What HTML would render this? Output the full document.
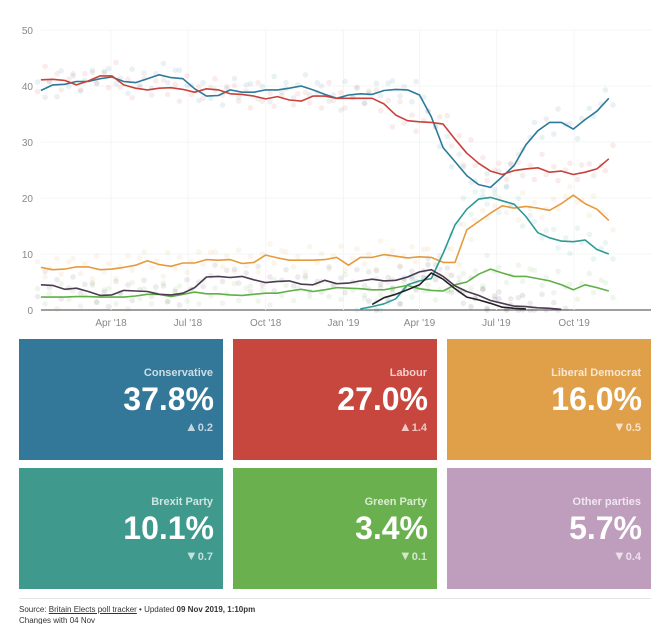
<!DOCTYPE html>
<html><head><meta charset="utf-8"><style>
body{margin:0;background:#fff;font-family:"Liberation Sans",sans-serif;}
#wrap{position:relative;width:672px;height:624px;overflow:hidden;}
.card{position:absolute;width:204px;height:121px;color:#fff;text-align:right;box-sizing:border-box;padding-right:10px;}
.card .lbl{position:absolute;right:10px;top:28px;font-size:11px;font-weight:bold;opacity:.75;}
.card .val{position:absolute;right:9px;top:42px;font-size:32px;font-weight:bold;}
.card .chg{position:absolute;right:10px;top:80px;font-size:11px;font-weight:bold;opacity:.7;}
.card .chg span{font-size:13px;}
#foot{position:absolute;left:19px;top:604px;font-size:8px;color:#333;line-height:11px;}
#sep{position:absolute;left:19px;top:598px;width:632px;height:1px;background:#e4e4e4;}
</style></head><body>
<div id="wrap">
<svg id="chart" width="672" height="335" style="position:absolute;left:0;top:0"></svg>

<div class="card" style="left:19px;top:339px;background:#337799"><div class="lbl">Conservative</div><div class="val">37.8%</div><div class="chg"><span>▲</span>0.2</div></div>
<div class="card" style="left:233px;top:339px;background:#c7463d"><div class="lbl">Labour</div><div class="val">27.0%</div><div class="chg"><span>▲</span>1.4</div></div>
<div class="card" style="left:447px;top:339px;background:#e0a04a"><div class="lbl">Liberal Democrat</div><div class="val">16.0%</div><div class="chg"><span>▼</span>0.5</div></div>
<div class="card" style="left:19px;top:468px;background:#3f998c"><div class="lbl">Brexit Party</div><div class="val">10.1%</div><div class="chg"><span>▼</span>0.7</div></div>
<div class="card" style="left:233px;top:468px;background:#6bb04f"><div class="lbl">Green Party</div><div class="val">3.4%</div><div class="chg"><span>▼</span>0.1</div></div>
<div class="card" style="left:447px;top:468px;background:#bf9dbd"><div class="lbl">Other parties</div><div class="val">5.7%</div><div class="chg"><span>▼</span>0.4</div></div>
<div id="sep"></div>
<div id="foot">Source: <u>Britain Elects poll tracker</u> • Updated <b>09 Nov 2019, 1:10pm</b><br>Changes with 04 Nov</div>
</div>
<script>
// day offsets from 1 Jan 2018, two-weekly samples
const days=[7,21,35,49,63,77,91,105,119,133,147,161,175,189,203,217,231,245,259,273,287,301,315,329,343,357,371,385,399,413,427,441,455,469,483,497,511,525,539,553,567,581,595,609,623,637,651,665,679];
const con=[39.2,40.2,40.3,40.8,40.8,41.3,41.6,40.8,40.6,41.3,42,41.5,41.3,39.5,38.2,38.3,39.3,38.9,38.9,39.3,39.3,39.6,40.0,39.3,38.5,37.8,38.4,38.6,38.5,39.2,39.4,39.3,38.4,34.5,29,26.5,24,22.4,21.9,23.8,25.8,29.5,32,33.5,33.5,32.3,34.0,35.5,37.8];
const lab=[41.1,41.2,41.0,40.2,40.9,41.8,41.8,40.2,39.6,39.3,39.6,39.7,39.4,38.9,39.5,39.3,38.6,38.5,38.2,37.7,38.1,37.5,37.3,38.2,38.2,37.8,37.8,37.8,37.8,36.8,34.8,33.8,33.6,33.5,33.2,30.5,28,26.2,24.8,24.2,24.9,25.2,25.4,24.6,24.8,24.2,24.6,25.2,27.0];
const ld=[7.6,7.2,7.3,7.7,7.7,7.2,7.3,7.6,8.0,8.8,8.1,7.8,8.4,8.4,9.0,8.9,9.0,8.3,8.5,9.8,9.3,8.9,8.9,8.9,9.0,9.4,8.0,9.4,9.4,9.9,9.6,9.3,9.5,9.4,8.5,8.5,14.3,15.8,17.3,18.6,18.2,18.5,18.2,17.8,19.0,20.5,19,18,16.0];
const brx=[null,null,null,null,null,null,null,null,null,null,null,null,null,null,null,null,null,null,null,null,null,null,null,null,null,null,null,0.2,0.6,1.1,2,4.5,5.2,5.6,10.1,15.2,18,19.8,20.1,19.5,18.9,16.7,13.8,12.9,12.3,12.2,12.5,10.8,10.0];
const grn=[2.3,2.3,2.3,2.4,2.4,2.3,2.3,2.3,2.5,2.8,2.8,2.4,2.8,3.2,2.9,2.9,2.7,2.6,2.8,3.0,3.0,3.4,3.7,3.3,3.6,4.0,3.9,3.8,3.6,3.6,4.0,4.4,3.8,3.5,3.4,4.5,5.0,6.4,7.3,6.6,6.0,6.0,5.6,5.2,4.5,3.6,4.5,4.0,3.4];
const ukip=[4.5,4.4,3.7,3.9,3.3,2.6,2.7,3.5,3.4,3.3,2.8,2.7,3.0,4.0,5.9,6.0,5.8,6.0,5.4,4.9,5.1,5.2,4.6,4.5,5.3,4.7,4.8,5.2,5.5,5.2,5.3,5.9,6.8,7.2,6.0,4.3,3.3,2.6,1.7,1.2,0.7,0.6,0.4,0.3,0.1,null,null,null,null];
const cuk=[null,null,null,null,null,null,null,null,null,null,null,null,null,null,null,null,null,null,null,null,null,null,null,null,null,null,null,null,1.0,2.2,2.8,3.6,4.5,6.6,5.5,3.8,2.3,1.8,1.2,0.5,0.3,0.2,null,null,null,null,null,null,null];
const pollSpread=[1.5,-1.2,0.6,-2.1,2.4,-0.4,1.0,-1.7,0.2,2.0,-0.9,1.3];
const yTicks=[0,10,20,30,40,50];
const xTickDays=[90,181,273,365,455,546,638];
const xTickLabels=["Apr '18","Jul '18","Oct '18","Jan '19","Apr '19","Jul '19","Oct '19"];

const NS="http://www.w3.org/2000/svg";
const svg=document.getElementById('chart');
const xS=d=>35+0.845*d;
const yS=v=>310-v*5.6;
function mk(t,a){const e=document.createElementNS(NS,t);for(const k in a)e.setAttribute(k,a[k]);svg.appendChild(e);return e;}
yTicks.forEach(t=>{
  const g=mk('line',{x1:41,x2:651,y1:yS(t),y2:yS(t),stroke:t?'#f3f4f5':'#666','stroke-width':t?1:1.3});
  
  
  const l=mk('text',{x:33,y:yS(t)+4,'text-anchor':'end','font-size':10,fill:'#888','font-family':'Liberation Sans'});
  l.textContent=t;
  
  
});
xTickDays.forEach((d,i)=>{
  const g=mk('line',{x1:xS(d),x2:xS(d),y1:30,y2:310,stroke:'#f4f5f6'});
  
  
  const l=mk('text',{x:xS(d),y:326,'text-anchor':'middle','font-size':10,fill:'#888','font-family':'Liberation Sans'});
  l.textContent=xTickLabels[i];
  
  
});
const series=[[con,'#2c7a9b','conservative'],[lab,'#c9413a','labour'],[ld,'#e69a3c','libdem'],[brx,'#2e9a94','brexit'],[grn,'#5fb046','green'],[ukip,'#4c3b52','ukip'],[cuk,'#222','change-uk']];
series.forEach(([vals,c,n],si)=>{
  vals.forEach((v,i)=>{ if(v==null)return;
    for(let k=0;k<2;k++){
      const o=pollSpread[(i*2+k+si*3)%pollSpread.length];
      const dd=days[i]+(k?5:-4);
      const dot=mk('circle',{cx:xS(dd),cy:yS(Math.max(0,v+o)),r:2.8,fill:c,opacity:0.1});
      
      
    }
  });
});
series.forEach(([vals,c,n])=>{
  let d='',pen=false;
  vals.forEach((v,i)=>{ if(v==null){pen=false;return;} d+=(pen?'L':'M')+xS(days[i]).toFixed(1)+','+yS(v).toFixed(1); pen=true;});
  const p=mk('path',{d:d,fill:'none',stroke:c,'stroke-width':1.6,'stroke-linejoin':'round'});
  
  
});
</script>
</body></html>
